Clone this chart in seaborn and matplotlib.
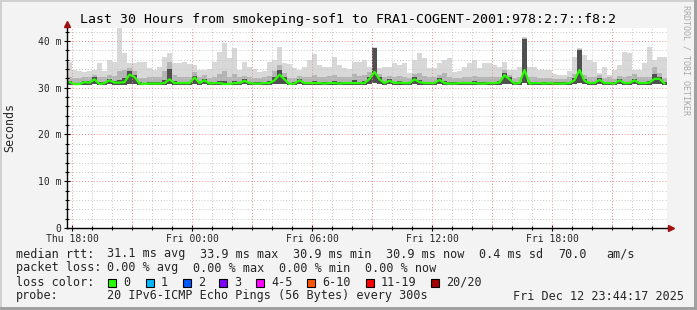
import matplotlib
matplotlib.use("Agg")
import matplotlib.pyplot as plt
import matplotlib.dates as mdates
from matplotlib.patches import Rectangle
from matplotlib.ticker import MultipleLocator, FixedLocator, FixedFormatter
import pandas as pd
import seaborn as sns

# ---------------- data ----------------
title = "Last 30 Hours from smokeping-sof1 to FRA1-COGENT-2001:978:2:7::f8:2"
start_time = "2025-12-11 17:45"
n_hours = 30
step = "15min"

median_ms = [
    31.2, 30.8, 30.8, 31.2, 31.1, 31.8, 30.8, 31.0, 31.6, 31.1,
    31.1, 31.2, 32.8, 32.3, 30.9, 30.8, 30.9, 30.9, 30.9, 31.0,
    31.8, 31.0, 31.0, 31.0, 31.0, 32.2, 31.0, 31.6, 30.9, 31.0,
    31.0, 30.8, 30.8, 31.0, 31.0, 31.5, 31.0, 30.9, 30.9, 31.0,
    31.0, 31.6, 32.8, 31.8, 30.8, 30.9, 31.6, 31.0, 31.0, 31.0,
    31.0, 30.9, 31.0, 31.0, 30.9, 31.0, 31.0, 31.0, 31.0, 31.0,
    31.9, 33.4, 31.8, 31.0, 31.5, 31.0, 31.1, 31.0, 31.0, 31.8,
    31.2, 31.0, 31.0, 31.0, 31.7, 31.0, 30.9, 30.9, 31.0, 31.0,
    31.0, 31.0, 30.9, 30.9, 31.0, 31.0, 31.1, 32.7, 31.8, 30.9,
    31.0, 33.8, 30.9, 31.0, 31.0, 30.9, 31.0, 30.9, 30.9, 30.9,
    31.0, 31.6, 33.8, 31.5, 31.0, 31.0, 31.7, 31.0, 31.0, 30.9,
    31.6, 31.0, 31.0, 31.6, 31.0, 31.0, 31.1, 31.9, 31.9, 30.9,
]

smoke_lo = [
    30.6, 30.5, 30.5, 30.6, 30.6, 30.7, 30.5, 30.6, 30.7, 30.6,
    30.6, 30.6, 30.9, 30.8, 30.5, 30.5, 30.5, 30.5, 30.5, 30.6,
    30.7, 30.6, 30.6, 30.6, 30.6, 30.8, 30.6, 30.7, 30.5, 30.6,
    30.6, 30.5, 30.5, 30.6, 30.6, 30.7, 30.6, 30.5, 30.5, 30.6,
    30.6, 30.7, 30.9, 30.7, 30.5, 30.5, 30.7, 30.6, 30.6, 30.6,
    30.6, 30.5, 30.6, 30.6, 30.5, 30.6, 30.6, 30.6, 30.6, 30.6,
    30.7, 31.0, 30.7, 30.6, 30.7, 30.6, 30.6, 30.6, 30.6, 30.7,
    30.6, 30.6, 30.6, 30.6, 30.7, 30.6, 30.5, 30.5, 30.6, 30.6,
    30.6, 30.6, 30.5, 30.5, 30.6, 30.6, 30.6, 30.9, 30.7, 30.5,
    30.6, 31.0, 30.5, 30.6, 30.6, 30.5, 30.6, 30.5, 30.5, 30.5,
    30.6, 30.7, 31.0, 30.7, 30.6, 30.6, 30.7, 30.6, 30.6, 30.5,
    30.7, 30.6, 30.6, 30.7, 30.6, 30.6, 30.6, 30.8, 30.8, 30.5,
]

smoke_dark = [
    31.5, 31.1, 31.1, 31.5, 31.4, 32.2, 31.2, 31.3, 31.9, 31.4,
    31.6, 32.0, 33.5, 32.8, 31.2, 31.1, 31.2, 31.2, 31.2, 31.6,
    34.0, 31.4, 31.3, 31.3, 31.3, 32.6, 31.3, 31.9, 31.2, 31.3,
    31.5, 31.4, 31.1, 31.4, 31.3, 31.8, 31.3, 31.2, 31.2, 31.3,
    31.4, 32.2, 33.8, 32.2, 31.1, 31.2, 31.9, 31.3, 31.3, 31.4,
    31.3, 31.2, 31.3, 31.4, 31.2, 31.3, 31.3, 31.6, 31.3, 31.4,
    32.4, 38.5, 32.2, 31.3, 31.8, 31.3, 31.4, 31.3, 31.3, 32.2,
    31.6, 31.3, 31.3, 31.3, 32.0, 31.5, 31.2, 31.2, 31.3, 31.3,
    31.3, 31.4, 31.2, 31.2, 31.3, 31.3, 31.4, 33.2, 32.2, 31.2,
    31.3, 40.5, 31.2, 31.3, 31.3, 31.2, 31.3, 31.2, 31.2, 31.2,
    31.3, 32.0, 38.0, 31.9, 31.3, 31.3, 32.0, 31.3, 31.3, 31.2,
    31.9, 31.3, 31.3, 31.9, 31.3, 31.3, 31.5, 33.0, 32.3, 31.2,
]

smoke_mid = [
    32.4, 32.0, 32.0, 32.2, 32.3, 32.8, 32.4, 32.2, 32.8, 32.5,
    33.5, 33.8, 34.2, 33.6, 32.0, 32.0, 32.2, 32.2, 32.4, 33.5,
    35.5, 32.8, 32.4, 32.2, 32.2, 33.4, 32.2, 32.8, 32.0, 32.3,
    33.0, 33.5, 32.4, 33.0, 32.2, 32.6, 32.2, 32.0, 32.0, 32.2,
    32.6, 33.6, 34.8, 33.2, 32.0, 32.0, 32.6, 32.2, 32.4, 32.8,
    32.4, 32.2, 32.6, 32.8, 32.2, 32.2, 32.4, 33.0, 32.6, 32.8,
    33.4, 38.6, 33.0, 32.4, 32.6, 32.4, 32.6, 32.4, 32.0, 33.0,
    33.2, 32.6, 32.2, 32.4, 32.8, 33.2, 32.2, 32.0, 32.0, 32.2,
    32.4, 32.6, 32.2, 32.2, 32.4, 32.4, 32.4, 33.8, 32.8, 32.0,
    32.2, 40.7, 32.2, 32.2, 32.0, 32.0, 32.0, 31.8, 31.8, 31.8,
    32.2, 33.0, 38.2, 32.8, 32.4, 32.4, 32.8, 32.0, 32.2, 31.8,
    32.6, 32.2, 32.6, 33.0, 32.2, 32.2, 32.4, 34.5, 33.2, 32.0,
]

smoke_hi = [
    35.6, 33.8, 33.6, 33.4, 33.6, 33.8, 35.3, 33.6, 35.9, 35.5,
    42.8, 37.5, 35.3, 35.3, 35.6, 35.6, 34.2, 33.8, 34.5, 36.6,
    37.4, 35.3, 35.3, 35.6, 35.0, 34.9, 33.8, 33.8, 34.0, 35.6,
    37.7, 39.5, 36.3, 38.4, 33.8, 35.6, 34.5, 34.0, 33.4, 33.6,
    35.6, 35.9, 38.8, 35.2, 35.0, 34.2, 33.8, 34.5, 35.9, 37.3,
    34.9, 34.5, 34.5, 36.6, 34.9, 34.2, 34.0, 35.6, 35.6, 35.9,
    34.5, 38.8, 34.2, 34.5, 34.5, 35.2, 34.9, 35.2, 33.1, 35.9,
    37.4, 36.3, 34.2, 34.2, 35.2, 35.9, 36.4, 33.4, 33.6, 34.5,
    35.2, 36.0, 34.2, 35.2, 35.2, 34.9, 34.5, 35.6, 33.8, 33.8,
    34.5, 40.9, 34.5, 34.5, 33.8, 33.8, 33.8, 32.9, 32.8, 32.7,
    33.5, 36.6, 38.4, 37.0, 35.9, 35.6, 33.1, 34.5, 32.7, 33.8,
    34.9, 37.7, 37.4, 33.8, 33.8, 35.2, 38.8, 35.9, 36.6, 36.6,
]

y_tick_values = [0, 10, 20, 30, 40]
y_tick_labels = ["0", "10 m", "20 m", "30 m", "40 m"]
y_max = 42.78

rtt_label = "median rtt:"
rtt_items = ["31.1 ms avg", "33.9 ms max", "30.9 ms min", "30.9 ms now",
             "0.4 ms sd", "70.0", "am/s"]
loss_label = "packet loss:"
loss_items = ["0.00 % avg", "0.00 % max", "0.00 % min", "0.00 % now"]
color_label = "loss color:"
loss_classes = ["0", "1", "2", "3", "4-5", "6-10", "11-19", "20/20"]
loss_colors = ["#26ff00", "#00b8ff", "#0059ff", "#7e00ff",
               "#ff00ff", "#ff5500", "#ff0000", "#a10000"]
probe_label = "probe:"
probe_text = "20 IPv6-ICMP Echo Pings (56 Bytes) every 300s"
stamp_text = "Fri Dec 12 23:44:17 2025"
side_text = "RRDTOOL / TOBI OETIKER"

# ---------------- figure ----------------
W, H = 697, 310
sns.set_style("white")
plt.rcParams["font.family"] = ["DejaVu Sans Mono", "DejaVu Sans"]

BG = "#f3f3f3"
fig = plt.figure(figsize=(W / 100, H / 100), dpi=100, facecolor=BG)

def fx(px):
    return px / W

def fy(py):
    return 1 - py / H

ax = fig.add_axes([fx(67), fy(228), fx(600), 200 / H])
ax.set_facecolor("white")

t0 = pd.Timestamp(start_time)
n = len(median_ms)
edges = pd.date_range(t0, periods=n + 1, freq=step)
centers = edges[:-1] + (edges[1] - edges[0]) / 2

def ext(a):
    return list(a) + [a[-1]]

ax.fill_between(edges, ext(smoke_lo), ext(smoke_hi), step="post",
                color="#d8d8d8", lw=0, zorder=1)
ax.fill_between(edges, ext(smoke_lo), ext(smoke_mid), step="post",
                color="#b4b4b4", lw=0, zorder=2)
ax.fill_between(edges, ext(smoke_lo), ext(smoke_dark), step="post",
                color="#505050", lw=0, zorder=3)

df = pd.DataFrame({"time": centers, "median": median_ms})
sns.lineplot(data=df, x="time", y="median", ax=ax, color=loss_colors[0],
             lw=1.6, zorder=5)

ax.set_xlim(edges[0], edges[-1])
ax.set_ylim(0, y_max)
ax.set_xlabel("")
ax.set_ylabel("")

# grid
ax.yaxis.set_major_locator(FixedLocator(y_tick_values))
ax.yaxis.set_major_formatter(FixedFormatter(y_tick_labels))
ax.yaxis.set_minor_locator(MultipleLocator(2))
ax.xaxis.set_major_locator(mdates.HourLocator(byhour=range(0, 24, 6)))
ax.xaxis.set_major_formatter(mdates.DateFormatter("%a %H:%M"))
ax.xaxis.set_minor_locator(mdates.HourLocator())

ax.grid(which="minor", color="#c8c8c8", lw=0.7, linestyle=(0, (1, 2)), zorder=6)
ax.grid(which="major", axis="y", color="#f09090", lw=0.7, linestyle=(0, (1, 2)), zorder=6)
for ts in pd.date_range(t0.ceil("3h"), edges[-1], freq="3h"):
    ax.axvline(ts, color="#f09090", lw=0.7, linestyle=(0, (1, 2)), zorder=6)
ax.set_axisbelow(False)

for s in ["top", "right"]:
    ax.spines[s].set_visible(False)
for s in ["left", "bottom"]:
    ax.spines[s].set_color("black")
    ax.spines[s].set_linewidth(1.0)
    ax.spines[s].set_zorder(7)

ax.tick_params(axis="both", which="both", direction="inout", length=4,
               width=0.8, color="black", labelsize=7.05, pad=2,
               left=True, bottom=True)
ax.tick_params(axis="both", which="minor", length=2.5)
for lab in ax.get_xticklabels():
    lab.set_horizontalalignment("center")

# axis arrows
ax.plot([0, 0], [1, 1 + 4 / 200], color="black", lw=1.0,
        transform=ax.transAxes, clip_on=False, zorder=8)
ax.plot(0, 1 + 4 / 200, marker="^", color="#a01010", ms=4.5,
        transform=ax.transAxes, clip_on=False, zorder=9)
ax.plot([1, 1 + 3 / 600], [0, 0], color="black", lw=1.0,
        transform=ax.transAxes, clip_on=False, zorder=8)
ax.plot(1 + 4 / 600, 0, marker=">", color="#a01010", ms=4.5,
        transform=ax.transAxes, clip_on=False, zorder=9)

# texts
fig.text(fx(348), fy(19), title, ha="center", va="center", fontsize=9.55,
         color="black")
fig.text(fx(10), fy(127), "Seconds", rotation=90, ha="center", va="center",
         fontsize=8.4)
fig.text(fx(686), fy(60), side_text, rotation=-90, ha="center", va="center",
         fontsize=6.0, color="#a8a8a8")

LEG = 8.5
rows = [254, 268, 282, 296]
fig.text(fx(16), fy(rows[0]), rtt_label, ha="left", va="center", fontsize=LEG)
for txt, x in zip(rtt_items, [107.3, 200, 293.3, 386, 479.3, 558.3, 606.7]):
    fig.text(fx(x), fy(rows[0]), txt, ha="left", va="center", fontsize=LEG)
fig.text(fx(16), fy(rows[1]), loss_label, ha="left", va="center", fontsize=LEG)
for txt, x in zip(loss_items, [107.3, 193.3, 279.3, 365]):
    fig.text(fx(x), fy(rows[1]), txt, ha="left", va="center", fontsize=LEG)
fig.text(fx(16), fy(rows[2]), color_label, ha="left", va="center", fontsize=LEG)
for lab, col, x in zip(loss_classes, loss_colors,
                       [108, 145.7, 182.7, 219.3, 256, 307.3, 365.7, 430.7]):
    fig.patches.append(Rectangle((fx(x), fy(286.5)), 8 / W, 8 / H,
                                 transform=fig.transFigure, facecolor=col,
                                 edgecolor="black", lw=0.8))
    fig.text(fx(x + 15), fy(rows[2]), lab, ha="left", va="center", fontsize=LEG)
fig.text(fx(16), fy(rows[3]), probe_label, ha="left", va="center", fontsize=LEG)
fig.text(fx(107.3), fy(rows[3]), probe_text, ha="left", va="center", fontsize=LEG)
fig.text(fx(513.3), fy(rows[3]), stamp_text, ha="left", va="center", fontsize=LEG)

# canvas frame (shade)
fig.patches.append(Rectangle((0, 1 - 2 / H), 1, 2 / H, transform=fig.transFigure,
                             facecolor="#d0d0d0", lw=0))
fig.patches.append(Rectangle((0, 0), 2 / W, 1, transform=fig.transFigure,
                             facecolor="#d0d0d0", lw=0))
fig.patches.append(Rectangle((1 - 3 / W, 0), 3 / W, 1, transform=fig.transFigure,
                             facecolor="#a0a0a0", lw=0))
fig.patches.append(Rectangle((0, 0), 1, 3 / H, transform=fig.transFigure,
                             facecolor="#a0a0a0", lw=0))

fig.savefig("out.png", dpi=100, facecolor=BG)
